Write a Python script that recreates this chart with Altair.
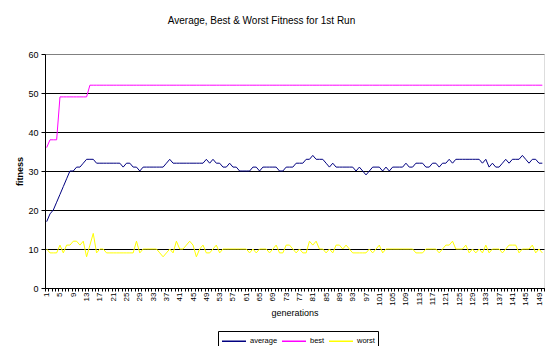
import altair as alt
import pandas as pd

generations = list(range(1, 151))

average = [
    17, 19, 20, 22, 24, 26, 28, 30, 30, 31,
    31, 32, 33, 33, 33, 32, 32, 32, 32, 32,
    32, 32, 32, 31, 32, 32, 31, 31, 30, 31,
    31, 31, 31, 31, 31, 31, 32, 33, 32, 32,
    32, 32, 32, 32, 32, 32, 32, 32, 33, 32,
    33, 32, 32, 31, 31, 32, 31, 31, 30, 30,
    30, 30, 31, 31, 30, 31, 31, 31, 31, 31,
    30, 30, 31, 31, 31, 32, 32, 32, 33, 33,
    34, 33, 33, 33, 32, 31, 32, 31, 31, 31,
    31, 31, 31, 30, 31, 30, 29, 30, 31, 31,
    31, 30, 31, 30, 31, 31, 31, 31, 32, 31,
    31, 32, 32, 32, 31, 31, 32, 32, 31, 32,
    32, 33, 32, 33, 33, 33, 33, 33, 33, 33,
    33, 32, 33, 31, 32, 31, 31, 32, 33, 32,
    33, 33, 33, 34, 33, 32, 33, 33, 32, 32,
]

best = [
    36, 38, 38, 38, 49, 49, 49, 49, 49, 49,
    49, 49, 49, 52, 52, 52, 52, 52, 52, 52,
    52, 52, 52, 52, 52, 52, 52, 52, 52, 52,
    52, 52, 52, 52, 52, 52, 52, 52, 52, 52,
    52, 52, 52, 52, 52, 52, 52, 52, 52, 52,
    52, 52, 52, 52, 52, 52, 52, 52, 52, 52,
    52, 52, 52, 52, 52, 52, 52, 52, 52, 52,
    52, 52, 52, 52, 52, 52, 52, 52, 52, 52,
    52, 52, 52, 52, 52, 52, 52, 52, 52, 52,
    52, 52, 52, 52, 52, 52, 52, 52, 52, 52,
    52, 52, 52, 52, 52, 52, 52, 52, 52, 52,
    52, 52, 52, 52, 52, 52, 52, 52, 52, 52,
    52, 52, 52, 52, 52, 52, 52, 52, 52, 52,
    52, 52, 52, 52, 52, 52, 52, 52, 52, 52,
    52, 52, 52, 52, 52, 52, 52, 52, 52, 52,
]

worst = [
    10, 9, 9, 9, 11, 9, 11, 11, 12, 12,
    11, 12, 8, 11, 14, 9, 10, 10, 9, 9,
    9, 9, 9, 9, 9, 9, 9, 12, 9, 10,
    10, 10, 10, 10, 9, 8, 9, 10, 9, 12,
    10, 10, 11, 12, 11, 8, 10, 11, 9, 9,
    10, 11, 9, 10, 10, 10, 10, 10, 10, 10,
    10, 9, 10, 9, 10, 10, 10, 9, 10, 11,
    9, 9, 11, 11, 10, 9, 10, 9, 9, 12,
    11, 12, 10, 10, 9, 10, 9, 11, 11, 10,
    11, 10, 9, 9, 9, 9, 9, 10, 9, 10,
    11, 9, 10, 10, 10, 10, 10, 10, 10, 10,
    10, 9, 9, 9, 10, 10, 10, 10, 9, 10,
    11, 11, 12, 10, 10, 10, 11, 9, 10, 9,
    10, 9, 11, 9, 10, 10, 10, 9, 10, 11,
    11, 11, 9, 10, 10, 10, 11, 9, 10, 9,
]

series_names = ["average", "best", "worst"]
series_colors = ["#000080", "#FF00FF", "#FFFF00"]

x_labels = [1, 5, 9, 13, 17, 21, 25, 29, 33, 37, 41, 45, 49, 53, 57, 61, 65, 69, 73,
            77, 81, 85, 89, 93, 97, 101, 105, 109, 113, 117, 121, 125, 129, 133, 137,
            141, 145, 149]
y_ticks = [0, 10, 20, 30, 40, 50, 60]

rows = []
for name, vals in zip(series_names, [average, best, worst]):
    for g, v in zip(generations, vals):
        rows.append({"gen": g, "value": v, "series": name})
df = pd.DataFrame(rows)

tick_df = pd.DataFrame({"t": [g - 0.5 for g in generations] + [generations[-1] + 0.5]})

FONT = "Liberation Sans"
x_scale = alt.Scale(domain=[0.5, 150.5], nice=False, zero=False)
y_scale = alt.Scale(domain=[0, 60], nice=False, zero=True)

lines = alt.Chart(df).mark_line(strokeWidth=1).encode(
    x=alt.X("gen:Q", scale=x_scale,
            axis=alt.Axis(values=x_labels, orient="bottom", ticks=False, labelAngle=-90,
                          grid=False, title="generations", domainColor="black", domainWidth=1,
                          labelFontSize=8, labelFont=FONT, labelColor="black",
                          labelPadding=4, titleFont=FONT, titleFontSize=9,
                          titleFontWeight="normal", titleColor="black", titlePadding=3)),
    y=alt.Y("value:Q", scale=y_scale,
            axis=alt.Axis(values=y_ticks, grid=True,
                          gridColor={"condition": {"test": "datum.value >= 60", "value": "#808080"},
                                     "value": "black"},
                          gridWidth=1, gridOpacity=1,
                          domainColor="black", tickColor="black", tickSize=4,
                          labelFontSize=9, labelFont=FONT, labelColor="black", labelPadding=3,
                          title="fitness", titleFont=FONT, titleFontSize=9,
                          titleFontWeight="bold", titleColor="black", titlePadding=3)),
    color=alt.Color("series:N",
                    scale=alt.Scale(domain=series_names, range=series_colors),
                    legend=alt.Legend(title=None, orient="none", direction="horizontal",
                                      legendX=173, legendY=277,
                                      symbolType="M-1,0H3", symbolSize=144,
                                      symbolStrokeWidth=1.5, labelFontSize=7.5,
                                      labelFont=FONT, labelColor="black", labelOffset=15,
                                      columnPadding=1, padding=3,
                                      strokeColor="black", fillColor="white")),
)

ticks = alt.Chart(tick_df).mark_point(opacity=0).encode(
    x=alt.X("t:Q", scale=x_scale,
            axis=alt.Axis(values=tick_df["t"].tolist(), orient="bottom", labels=False,
                          ticks=True, tickSize=3, tickColor="black", domain=False,
                          grid=False, title=None)),
)

chart = alt.layer(ticks, lines).resolve_axis(x="independent").properties(
    width=499,
    height=234,
    autosize=alt.AutoSizeParams(type="none"),
    padding={"left": 37, "top": 46, "right": 6, "bottom": 58},
    title=alt.TitleParams("Average, Best & Worst Fitness for 1st Run", font=FONT,
                          fontSize=10, fontWeight="normal", color="black",
                          anchor="middle", offset=24, dx=-33),
).configure_view(
    fill="#C0C0C0", stroke="#808080", strokeWidth=1
).configure(background="white")

chart.save("out.html", embed_options={"renderer": "svg", "actions": False})
